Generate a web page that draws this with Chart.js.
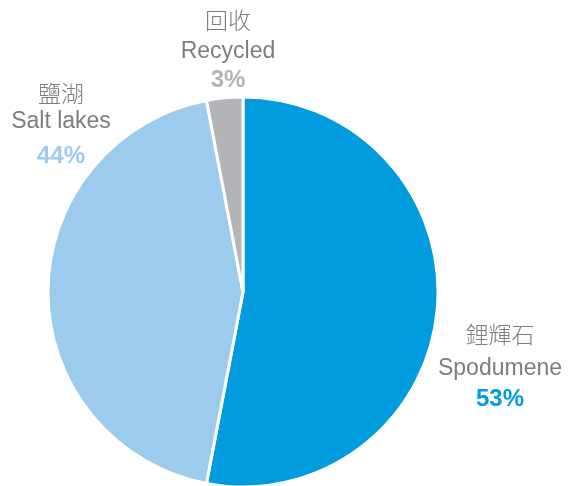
<!DOCTYPE html>
<html>
<head>
<meta charset="utf-8">
<script src="https://cdn.jsdelivr.net/npm/chart.js@4.4.0/dist/chart.umd.min.js"></script>
<style>
  html, body { margin: 0; padding: 0; background: #fff; }
  #wrap { position: relative; width: 569px; height: 486px; overflow: hidden; }
  #pie { position: absolute; left: 0; top: 0; }
  .lbl {
    position: absolute;
    width: 200px;
    margin-left: -100px;
    text-align: center;
    white-space: nowrap;
  }
  .zh { font-family: "Noto Sans CJK TC", "Noto Sans CJK SC", sans-serif; font-weight: 300; font-size: 23px; line-height: 23px; color: #7d7d7d; }
  .en { font-family: "Liberation Sans", Arial, sans-serif; font-size: 23px; line-height: 23px; color: #7d7d7d; }
  .pct { font-family: "Liberation Sans", Arial, sans-serif; font-weight: bold; font-size: 24px; line-height: 24px; }
</style>
</head>
<body>
<div id="wrap">
  <canvas id="pie" width="569" height="486"></canvas>
</div>
<script>
// lithium supply by source
const sourcesEn = ['Spodumene', 'Salt lakes', 'Recycled'];
const sourcesZh = ['鋰輝石', '鹽湖', '回收'];
const shares = [53, 44, 3];
const sliceColors = ['#009cde', '#9ccbee', '#b3b4b8'];

// where each label block sits (centre x, top of each line)
const labelSpots = [
  { x: 500, zh: 322, en: 356, pct: 386 },
  { x: 61, zh: 81, en: 109, pct: 143 },
  { x: 228, zh: 8, en: 39, pct: 67 }
];

const wrap = document.getElementById('wrap');
function addLine(cls, text, x, top, color) {
  const el = document.createElement('div');
  el.className = 'lbl ' + cls;
  el.textContent = text;
  el.style.left = x + 'px';
  el.style.top = top + 'px';
  if (color) el.style.color = color;
  wrap.appendChild(el);
}

sourcesEn.forEach((name, i) => {
  const spot = labelSpots[i];
  addLine('zh', sourcesZh[i], spot.x, spot.zh);
  addLine('en', name, spot.x, spot.en);
  addLine('pct', shares[i] + '%', spot.x, spot.pct, sliceColors[i]);
});

new Chart(document.getElementById('pie').getContext('2d'), {
  type: 'pie',
  data: {
    labels: sourcesEn,
    datasets: [{
      data: shares,
      backgroundColor: sliceColors,
      borderColor: '#ffffff',
      borderWidth: 3,
      radius: 195
    }]
  },
  options: {
    responsive: false,
    animation: false,
    rotation: 0,
    layout: { padding: { left: 0, right: 83, top: 98, bottom: 0 } },
    plugins: {
      legend: { display: false },
      tooltip: { enabled: false }
    }
  }
});
</script>
</body>
</html>
